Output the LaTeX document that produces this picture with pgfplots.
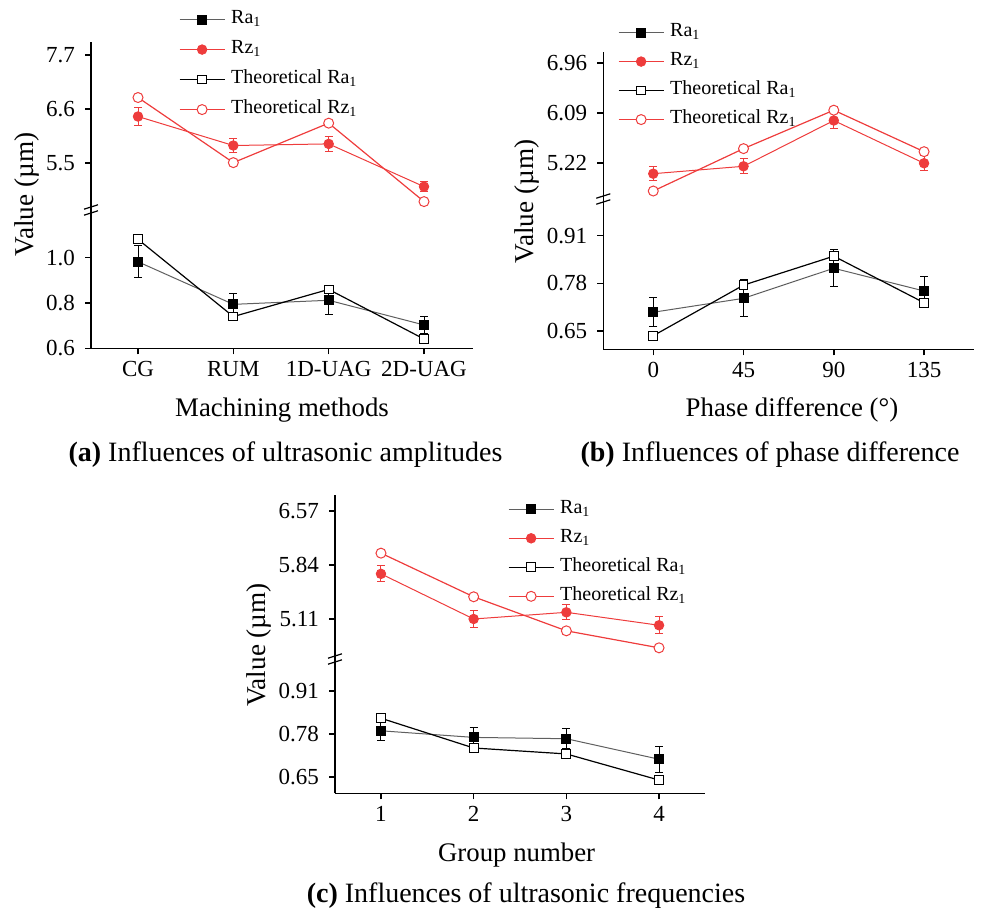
\documentclass[border=0pt]{standalone}
\usepackage{fontspec}
\setmainfont{Liberation Serif}
\usepackage{pgfplots}
\pgfplotsset{compat=1.18}
\definecolor{myred}{RGB}{238,60,60}
\definecolor{linegray}{RGB}{95,95,95}
\pgfplotsset{
  legend image code/.code={\draw[mark repeat=2,mark phase=2,#1] plot coordinates {(0pt,0pt) (11.25pt,0pt) (22.5pt,0pt)};},
  base/.style={scale only axis, clip=false, tick align=outside, major tick length=3pt,
    axis line style={line width=0.75pt}, every tick/.style={line width=0.75pt, black},
    ticklabel style={font=\fontsize{11.5}{13}\selectfont},
    /pgf/number format/assume math mode=true,
    yticklabel style={xshift=-1.5pt}},
  lowax/.style={base, axis x line*=bottom, axis y line*=left},
  upax/.style={base, axis x line=none, axis y line*=left, xtick=\empty},
  leg/.style={legend cell align=left, legend style={draw=none, fill=none, inner sep=0pt, outer sep=0pt, anchor=north west, font=\fontsize{10}{12}\selectfont, row sep=#1, column sep=3pt, nodes={inner sep=0pt, text height=7pt, text depth=3pt}}},
  ra/.style={draw=linegray, line width=0.5pt, mark=square*, mark size=2.25pt, mark options={draw=black, fill=black, solid},
    error bars/y dir=both, error bars/y explicit, error bars/error bar style={line width=0.5pt, black}, error bars/error mark options={rotate=90, mark size=2pt, line width=0.5pt, black}},
  tra/.style={draw=black, line width=0.6pt, mark=square*, mark size=2.2pt, mark options={draw=black, fill=white, solid, line width=0.5pt}},
  rz/.style={draw=myred, line width=0.5pt, mark=*, mark size=2.35pt, mark options={draw=myred, fill=myred},
    error bars/y dir=both, error bars/y explicit, error bars/error bar style={line width=0.5pt, myred}, error bars/error mark options={rotate=90, mark size=2pt, line width=0.5pt, myred}},
  rzleg/.style={draw=myred, line width=0.5pt, mark=*, mark size=2.35pt, mark options={draw=myred, fill=myred}},
  raleg/.style={draw=linegray, line width=0.5pt, mark=square*, mark size=2.25pt, mark options={draw=black, fill=black, solid}},
  trz/.style={draw=myred, line width=0.6pt, mark=*, mark size=2.5pt, mark options={draw=myred, fill=white, line width=0.5pt}},
}
\begin{document}
\begin{tikzpicture}
\useasboundingbox (0,0) rectangle (492pt,455pt);
% ---------------- (a) ----------------
\begin{axis}[lowax, at={(45.5pt,280.85pt)}, anchor=south west, width=191pt, height=69.15pt,
  xmin=-0.493, xmax=3.514, ymin=0.6, ymax=1.2106,
  xtick={0,1,2,3}, xticklabels={CG,RUM,1D-UAG,2D-UAG},
  ytick={0.6,0.8,1.0}, yticklabels={0.6,0.8,1.0}]
\addplot[ra] coordinates {(0,0.982) +- (0,0.07) (1,0.794) +- (0,0.047) (2,0.812) +- (0,0.062) (3,0.703) +- (0,0.038)};
\addplot[tra] coordinates {(0,1.081) (1,0.740) (2,0.860) (3,0.641)};
\end{axis}
\begin{axis}[upax, at={(45.5pt,350pt)}, anchor=south west, width=191pt, height=84pt,
  xmin=-0.493, xmax=3.514, ymin=4.549, ymax=7.965,
  ytick={5.5,6.6,7.7}, yticklabels={5.5,6.6,7.7},
  leg=5pt, legend style={at={(0.2304,1.193)}}]
\addlegendimage{raleg}\addlegendentry{Ra\textsubscript{1}}
\addplot[rz] coordinates {(0,6.45) +- (0,0.18) (1,5.86) +- (0,0.136) (2,5.893) +- (0,0.16) (3,5.024) +- (0,0.1)};
\addlegendentry{Rz\textsubscript{1}}
\addlegendimage{tra}\addlegendentry{Theoretical Ra\textsubscript{1}}
\addplot[trz] coordinates {(0,6.836) (1,5.512) (2,6.315) (3,4.72)};
\addlegendentry{Theoretical Rz\textsubscript{1}}
\end{axis}
\draw[line width=0.6pt] (42pt,347.4pt) -- (49pt,349.6pt);
\draw[line width=0.6pt] (42pt,350.4pt) -- (49pt,352.6pt);
% ---------------- (b) ----------------
\begin{axis}[lowax, at={(301.65pt,280.35pt)}, anchor=south west, width=185.35pt, height=74.15pt,
  xmin=-24.9, xmax=159.9, ymin=0.6, ymax=1.0045,
  xtick={0,45,90,135}, xticklabels={0,45,90,135},
  ytick={0.65,0.78,0.91}, yticklabels={0.65,0.78,0.91}]
\addplot[ra] coordinates {(0,0.701) +- (0,0.04) (45,0.739) +- (0,0.05) (90,0.821) +- (0,0.05) (135,0.759) +- (0,0.04)};
\addplot[tra] coordinates {(0,0.637) (45,0.775) (90,0.854) (135,0.727)};
\end{axis}
\begin{axis}[upax, at={(301.65pt,354.5pt)}, anchor=south west, width=185.35pt, height=74.65pt,
  xmin=-24.9, xmax=159.9, ymin=4.557, ymax=7.16,
  ytick={5.22,6.09,6.96}, yticklabels={5.22,6.09,6.96},
  leg=4.5pt, legend style={at={(0.0397,1.195)}}]
\addlegendimage{raleg}\addlegendentry{Ra\textsubscript{1}}
\addplot[rz] coordinates {(0,5.033) +- (0,0.117) (45,5.162) +- (0,0.13) (90,5.96) +- (0,0.145) (135,5.215) +- (0,0.134)};
\addlegendentry{Rz\textsubscript{1}}
\addlegendimage{tra}\addlegendentry{Theoretical Ra\textsubscript{1}}
\addplot[trz] coordinates {(0,4.731) (45,5.47) (90,6.14) (135,5.417)};
\addlegendentry{Theoretical Rz\textsubscript{1}}
\end{axis}
\draw[line width=0.6pt] (298.15pt,352.9pt) -- (305.15pt,355.1pt);
\draw[line width=0.6pt] (298.15pt,355.9pt) -- (305.15pt,358.1pt);
% ---------------- (c) ----------------
\begin{axis}[lowax, at={(167.5pt,58.35pt)}, anchor=south west, width=185pt, height=66.15pt,
  xmin=0.504, xmax=4.496, ymin=0.6, ymax=1.0,
  xtick={1,2,3,4}, xticklabels={1,2,3,4},
  ytick={0.65,0.78,0.91}, yticklabels={0.65,0.78,0.91}]
\addplot[ra] coordinates {(1,0.789) +- (0,0.03) (2,0.769) +- (0,0.03) (3,0.765) +- (0,0.03) (4,0.703) +- (0,0.04)};
\addplot[tra] coordinates {(1,0.827) (2,0.737) (3,0.719) (4,0.64)};
\end{axis}
\begin{axis}[upax, at={(167.5pt,124.5pt)}, anchor=south west, width=185pt, height=83pt,
  xmin=0.504, xmax=4.496, ymin=4.542, ymax=6.786,
  ytick={5.11,5.84,6.57}, yticklabels={5.11,5.84,6.57},
  leg=4.5pt, legend style={at={(0.4676,0.974)}}]
\addlegendimage{raleg}\addlegendentry{Ra\textsubscript{1}}
\addplot[rz] coordinates {(1,5.72) +- (0,0.11) (2,5.11) +- (0,0.11) (3,5.2) +- (0,0.1) (4,5.025) +- (0,0.117)};
\addlegendentry{Rz\textsubscript{1}}
\addlegendimage{tra}\addlegendentry{Theoretical Ra\textsubscript{1}}
\addplot[trz] coordinates {(1,6.0) (2,5.41) (3,4.95) (4,4.72)};
\addlegendentry{Theoretical Rz\textsubscript{1}}
\end{axis}
\draw[line width=0.6pt] (164pt,122.9pt) -- (171pt,125.1pt);
\draw[line width=0.6pt] (164pt,125.9pt) -- (171pt,128.1pt);
% ---------------- text ----------------
\node[rotate=90, font=\fontsize{13.6}{16}\selectfont] at (13.5pt,357.75pt) {Value (µm)};
\node[rotate=90, font=\fontsize{13.6}{16}\selectfont] at (263.5pt,354.25pt) {Value (µm)};
\node[rotate=90, font=\fontsize{13.6}{16}\selectfont] at (129.5pt,132.5pt) {Value (µm)};
\node[font=\fontsize{13.4}{16}\selectfont] at (141pt,250pt) {Machining methods};
\node[font=\fontsize{13.4}{16}\selectfont] at (396pt,250pt) {Phase difference (°)};
\node[font=\fontsize{13.4}{16}\selectfont] at (258.3pt,27.5pt) {Group number};
\node[font=\fontsize{14}{16}\selectfont] at (142.75pt,227.5pt) {\textbf{(a)} Influences of ultrasonic amplitudes};
\node[font=\fontsize{14}{16}\selectfont] at (385pt,227.5pt) {\textbf{(b)} Influences of phase difference};
\node[font=\fontsize{14}{16}\selectfont] at (263pt,7pt) {\textbf{(c)} Influences of ultrasonic frequencies};
\end{tikzpicture}
\end{document}
